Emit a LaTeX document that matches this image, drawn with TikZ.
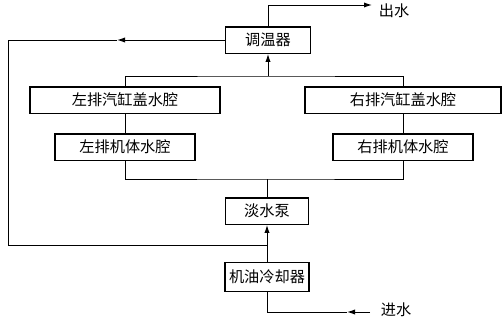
\documentclass[tikz,border=0pt]{standalone}
\usepackage{fontspec}
\newfontfamily\cjk{Noto Sans CJK SC}
\usepackage{tikz}
\usetikzlibrary{positioning,arrows.meta,calc}

\begin{document}
\begin{tikzpicture}[
  x=0.025cm, y=-0.025cm,
  font=\cjk\fontsize{10.8}{13}\selectfont,
  unit/.style={draw, line width=1pt, minimum height=0.66cm, inner sep=1pt},
  pipe/.style={line width=0.7pt},
  arr/.style={line width=0.7pt, -{Latex[length=2mm,width=1.3mm]}},
]
\useasboundingbox (0,0) rectangle (504,322);
% units
\node[unit, minimum width=2.12cm] (therm) at (268,40) {调温器};
\node[unit, minimum width=4.75cm] (lhead) at (125,100) {左排汽缸盖水腔};
\node[unit, minimum width=4.9cm] (rhead) at (403,100) {右排汽缸盖水腔};
\node[unit, minimum width=3.5cm] (lbody) at (125,147) {左排机体水腔};
\node[unit, minimum width=3.5cm] (rbody) at (403,147) {右排机体水腔};
\node[unit, minimum width=2.08cm] (pump) at (267,211) {淡水泵};
\node[unit, minimum width=2.1cm, minimum height=0.72cm] (cooler) at (267,277) {机油冷却器};
% junctions
\coordinate (outT) at (268,5);
\coordinate (outE) at (372,5);
\coordinate (barT) at (268,76);
\coordinate (barB) at (267,179);
\coordinate (retL) at (8,40);
\coordinate (retA) at (117,40);
\coordinate (retJ) at (267,245);
\coordinate (inE) at (370,312);
\coordinate (inA) at (347,312);
\node[anchor=west] (out) at (374,11) {出水};
\node[anchor=west] (in) at (376,310) {进水};
% outlet
\draw[arr] (therm.north) |- (outE);
% return to pump
\draw[pipe] (retA) -- (retL) |- (retJ);
\draw[arr] (therm.west) -- (retA);
% heads to thermostat
\draw[pipe] (lhead.north) |- (barT) -| (rhead.north);
\draw[arr] (barT) -- (therm.south);
\draw[pipe] (lhead) -- (lbody);
\draw[pipe] (rhead) -- (rbody);
% bodies from pump
\draw[pipe] (lbody.south) |- (barB) -| (rbody.south);
\draw[pipe] (barB) -- (pump.north);
\draw[arr] (cooler.north) -- (pump.south);
% inlet
\draw[pipe] (cooler.south) |- (inA);
\draw[arr] (inE) -- (inA);
\end{tikzpicture}
\end{document}
